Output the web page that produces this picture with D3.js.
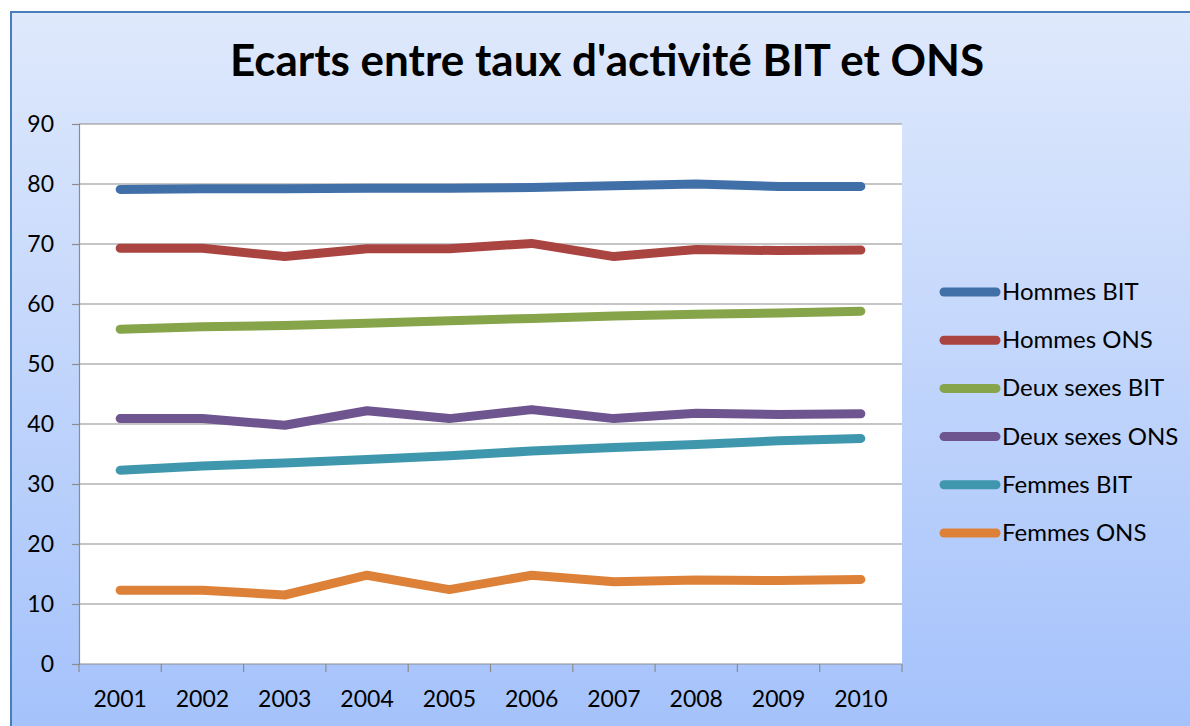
<!DOCTYPE html>
<html lang="fr">
<head>
<meta charset="UTF-8">
<title>Ecarts entre taux d'activité BIT et ONS</title>
<style>
  body { margin: 0; background: #fff; }
  text { font-family: Lato, "Open Sans", sans-serif; fill: #000; }
</style>
</head>
<body>
<svg width="1190" height="726"></svg>
<script src="https://d3js.org/d3.v7.min.js"></script>
<script>

var years = ["2001", "2002", "2003", "2004", "2005", "2006", "2007", "2008", "2009", "2010"];
var yTicks = [0, 10, 20, 30, 40, 50, 60, 70, 80, 90];

var hommesBIT     = [79.1, 79.2, 79.2, 79.3, 79.3, 79.4, 79.7, 80.0, 79.6, 79.6];
var hommesONS     = [69.3, 69.3, 67.9, 69.2, 69.2, 70.1, 67.9, 69.1, 68.9, 69.0];
var deuxSexesBIT  = [55.8, 56.2, 56.4, 56.8, 57.2, 57.6, 58.0, 58.3, 58.5, 58.8];
var deuxSexesONS  = [40.9, 40.9, 39.8, 42.2, 40.9, 42.4, 40.9, 41.8, 41.6, 41.7];
var femmesBIT     = [32.3, 33.0, 33.5, 34.1, 34.7, 35.5, 36.1, 36.6, 37.2, 37.6];
var femmesONS     = [12.3, 12.3, 11.5, 14.8, 12.4, 14.8, 13.7, 14.0, 13.9, 14.1];

var seriesNames  = ["Hommes BIT", "Hommes ONS", "Deux sexes BIT", "Deux sexes ONS", "Femmes BIT", "Femmes ONS"];
var seriesColors = ["#4170a8", "#aa4441", "#86a44a", "#6e558f", "#3f97ae", "#dd8138"];

var series = [hommesBIT, hommesONS, deuxSexesBIT, deuxSexesONS, femmesBIT, femmesONS].map(function(vals, i) {
  return { name: seriesNames[i], color: seriesColors[i], values: vals };
});

var svg = d3.select("svg");

// background with gradient
var defs = svg.append("defs");
var grad = defs.append("linearGradient")
    .attr("id", "bg")
    .attr("x1", 0).attr("y1", 0).attr("x2", 0).attr("y2", 1);
grad.append("stop").attr("offset", "0%").attr("stop-color", "#dfe9fc");
grad.append("stop").attr("offset", "100%").attr("stop-color", "#a3c1fb");

svg.append("rect")
    .attr("x", 11).attr("y", 12)
    .attr("width", 1200).attr("height", 730)
    .attr("fill", "url(#bg)")
    .attr("stroke", "#4a7ebb")
    .attr("stroke-width", 2);

var margin = {top: 124, left: 79},
    width = 823,
    height = 540;

var g = svg.append("g").attr("transform", "translate(" + margin.left + "," + margin.top + ")");

var x = d3.scaleBand().domain(years).range([0, width]);
var y = d3.scaleLinear().domain([0, 90]).range([height, 0]);

g.append("rect")
    .attr("width", width).attr("height", height)
    .attr("fill", "#fff");

// gridlines
g.append("g")
  .selectAll("line")
  .data(yTicks.slice(1))
  .enter().append("line")
    .attr("x1", 0).attr("x2", width)
    .attr("y1", function(d) { return y(d); })
    .attr("y2", function(d) { return y(d); })
    .attr("stroke", "#8c8c8c")
    .attr("stroke-width", 1.2);

// y axis
var yAxis = g.append("g")
    .call(d3.axisLeft(y).tickValues(yTicks).tickSize(7).tickPadding(18));
yAxis.select(".domain").attr("stroke", "#8c8c8c").attr("stroke-width", 1.2);
yAxis.selectAll(".tick line").attr("stroke", "#8c8c8c").attr("stroke-width", 1.2);
yAxis.selectAll("text")
    .attr("font-size", 23)
    .attr("font-family", "Lato, sans-serif")
    .attr("fill", "#000");

// x axis, ticks on band edges
var xAxis = g.append("g")
    .attr("transform", "translate(0," + height + ")");
xAxis.append("line")
    .attr("x1", 0).attr("x2", width)
    .attr("stroke", "#8c8c8c").attr("stroke-width", 1.2);
xAxis.selectAll(".edge")
  .data(years.concat(["end"]))
  .enter().append("line")
    .attr("class", "edge")
    .attr("x1", function(d, i) { return i < years.length ? x(d) : width; })
    .attr("x2", function(d, i) { return i < years.length ? x(d) : width; })
    .attr("y1", 0).attr("y2", 8)
    .attr("stroke", "#8c8c8c").attr("stroke-width", 1.2);
xAxis.selectAll(".lbl")
  .data(years)
  .enter().append("text")
    .attr("class", "lbl")
    .attr("x", function(d) { return x(d) + x.bandwidth() / 2; })
    .attr("y", 43)
    .attr("text-anchor", "middle")
    .attr("font-size", 23)
    .text(function(d) { return d; });

// lines
var line = d3.line()
    .x(function(d, i) { return x(years[i]) + x.bandwidth() / 2; })
    .y(function(d) { return y(d); });

g.append("g")
  .selectAll("path")
  .data(series)
  .enter().append("path")
    .attr("d", function(d) { return line(d.values); })
    .attr("fill", "none")
    .attr("stroke", function(d) { return d.color; })
    .attr("stroke-width", 9)
    .attr("stroke-linecap", "round")
    .attr("stroke-linejoin", "round");

// title
svg.append("text")
    .attr("x", 607)
    .attr("y", 76)
    .attr("text-anchor", "middle")
    .attr("font-size", 44)
    .attr("font-weight", "bold")
    .text("Ecarts entre taux d'activité BIT et ONS");

// legend
var legend = svg.append("g")
  .selectAll("g")
  .data(series)
  .enter().append("g")
    .attr("transform", function(d, i) { return "translate(940," + (292 + i * 48.2) + ")"; });

legend.append("line")
    .attr("x1", 4).attr("x2", 56)
    .attr("stroke", function(d) { return d.color; })
    .attr("stroke-width", 9)
    .attr("stroke-linecap", "round");

legend.append("text")
    .attr("x", 62)
    .attr("y", 8)
    .attr("font-size", 24)
    .text(function(d) { return d.name; });

</script>
</body>
</html>
